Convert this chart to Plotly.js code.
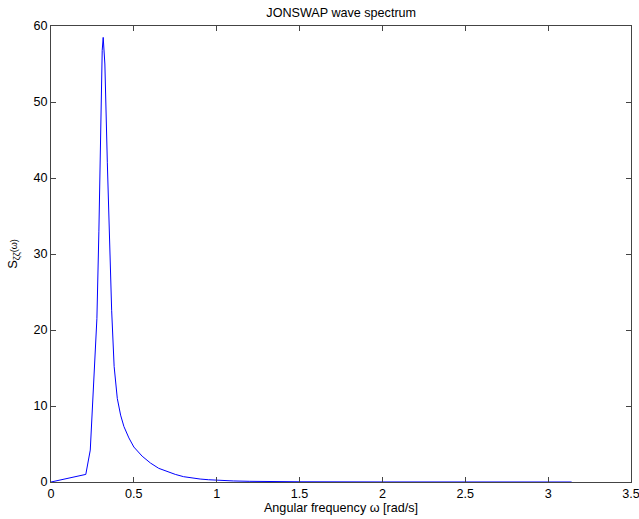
<!DOCTYPE html>
<html>
<head>
<meta charset="utf-8">
<script src="https://cdn.plot.ly/plotly-3.0.1.min.js"></script>
<style>html,body{margin:0;padding:0;background:#fff}</style>
</head>
<body>
<div id="chart" style="width:639px;height:519px"></div>
<script>
// Angular frequency [rad/s]
const omega = [0, 0.21, 0.237, 0.251, 0.263, 0.277, 0.289, 0.299, 0.309, 0.315, 0.325, 0.34, 0.354, 0.366, 0.381, 0.40, 0.42, 0.44, 0.47, 0.50, 0.55, 0.60, 0.65, 0.70, 0.75, 0.80, 0.85, 0.90, 0.95, 1.0, 1.1, 1.2, 1.3, 1.5, 2.0, 2.5, 3.1416];
// Spectral density S_zz(omega)
const S = [0, 1.0, 4.2, 10.8, 15.2, 21.5, 33, 46, 56.8, 58.5, 55, 42, 31, 22.6, 15.2, 11.0, 8.8, 7.3, 5.8, 4.6, 3.4, 2.5, 1.8, 1.36, 1.0, 0.7, 0.53, 0.39, 0.3, 0.22, 0.14, 0.09, 0.06, 0.03, 0.007, 0.0025, 0.0008];
const xTicks = [0, 0.5, 1, 1.5, 2, 2.5, 3, 3.5];
const xTickText = ['0', '0.5', '1', '1.5', '2', '2.5', '3', '3.5'];
const yTicks = [0, 10, 20, 30, 40, 50, 60];

const font = {family: 'Liberation Sans, Arial, sans-serif', size: 12.6, color: '#000'};
const axisCommon = {
  showgrid: false, zeroline: false, showline: true, linecolor: '#444', linewidth: 1,
  mirror: 'ticks', ticks: 'inside', ticklen: 5, tickcolor: '#444', tickwidth: 1,
  tickfont: font, ticklabeloverflow: 'allow'
};

Plotly.newPlot('chart', [{
  x: omega, y: S, type: 'scatter', mode: 'lines',
  line: {color: '#0000ff', width: 1}, hoverinfo: 'none'
}], {
  width: 639, height: 519,
  margin: {l: 51, r: 8, t: 26, b: 37},
  paper_bgcolor: '#fff', plot_bgcolor: '#fff',
  showlegend: false,
  font: font,
  title: {text: 'JONSWAP wave spectrum', font: font, x: 0.534, xanchor: 'center', y: 1 - 13/519, yanchor: 'middle'},
  xaxis: Object.assign({}, axisCommon, {
    range: [0, 3.5], tickvals: xTicks, ticktext: xTickText,
    title: {text: 'Angular frequency ω [rad/s]', font: font, standoff: 3}
  }),
  yaxis: Object.assign({}, axisCommon, {
    range: [0, 60], tickvals: yTicks,
    title: {text: 'S<sub>ζζ</sub><span style="font-size:9px">(ω)</span>', font: {family: font.family, size: 13, color: '#000'}, standoff: 12}
  })
}, {staticPlot: true, displayModeBar: false});
</script>
</body>
</html>
